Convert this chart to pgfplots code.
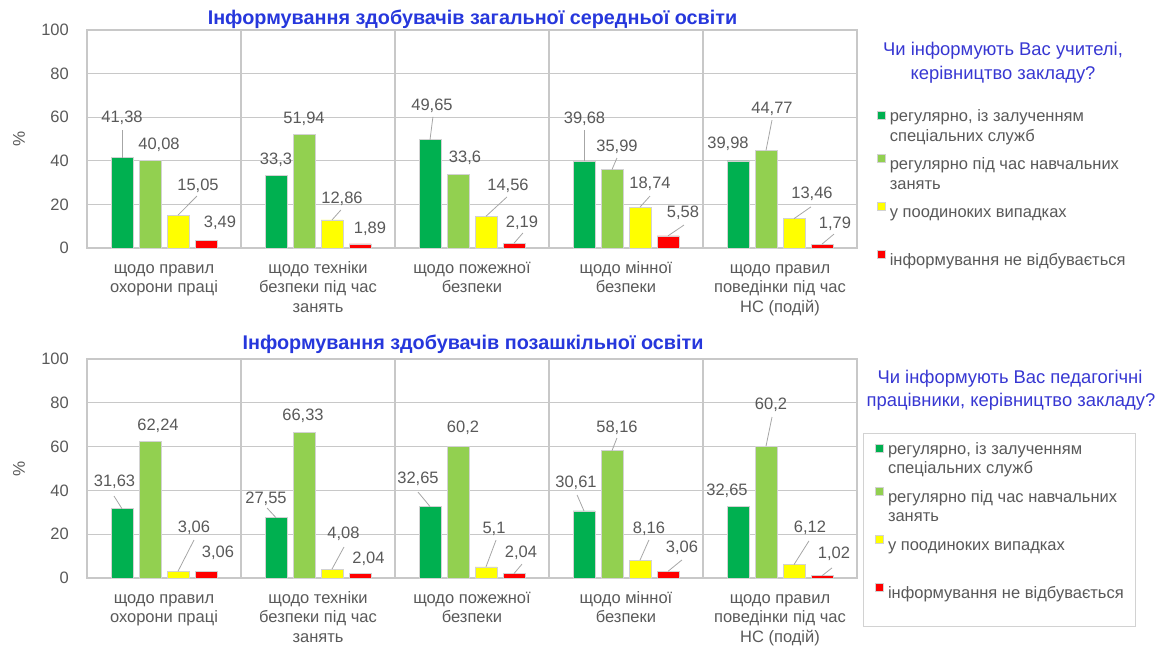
\documentclass[border=0pt]{standalone}
\usepackage{fontspec}
\setmainfont{Liberation Sans}
\usepackage{pgfplots}
\usepackage{pgfplotstable}
\pgfplotsset{compat=1.18}
\definecolor{txt}{RGB}{89,89,89}
\definecolor{gridc}{RGB}{200,200,200}
\definecolor{ttl}{RGB}{38,55,220}
\definecolor{ltl}{RGB}{55,55,210}
\definecolor{cA}{RGB}{0,176,80}
\definecolor{cB}{RGB}{146,208,80}
\definecolor{cC}{RGB}{255,255,0}
\definecolor{cD}{RGB}{255,0,0}
\definecolor{barc}{RGB}{210,210,210}
\definecolor{leadc}{RGB}{166,166,166}
\definecolor{boxc}{RGB}{210,210,210}
\newcommand{\fs}{\fontsize{16.5}{20}\selectfont}
\newcommand{\gap}{\rule{0pt}{23pt}}

\pgfplotstableread{
x y lab dx dy
0 41.38 41,38 0 40
1 33.3 33,3 0 16
2 49.65 49,65 2 34
3 39.68 39,68 0.5 42.5
4 39.98 39,98 -10 17
}\TopA
\pgfplotstableread{
x y lab dx dy
0 40.08 40,08 9 15.6
1 51.94 51,94 0 16.3
2 33.6 33,6 7 17
3 35.99 35,99 5 23
4 44.77 44,77 6 41.4
}\TopB
\pgfplotstableread{
x y lab dx dy
0 15.05 15,05 20 29.7
1 12.86 12,86 10 21
2 14.56 14,56 22 30.3
3 18.74 18,74 10 23
4 13.46 13,46 18 24.7
}\TopC
\pgfplotstableread{
x y lab dx dy
0 3.49 3,49 14 18
1 1.89 1,89 10 15
2 2.19 2,19 8 20
3 5.58 5,58 15 22.8
4 1.79 1,79 13 20
}\TopD
\pgfplotstableread{
x y u v
-0.2727 41.38 0 12.75
0.0909 15.05 0.123 8.8
1.0909 12.86 0.058 4.6
1.7273 49.65 0.019 10.5
2.0909 14.56 0.136 8.85
2.2727 2.19 0.058 4.7
2.7273 39.68 0 14.45
2.9091 35.99 0.032 5.3
3.0909 18.74 0.065 5.1
3.2727 5.58 0.104 4.95
3.9091 44.77 0.039 13.9
4.0909 13.46 0.110 5.4
4.2727 1.79 0.078 4.6
}\TopL

\pgfplotstableread{
x y lab dx dy
0 31.63 31,63 -7.5 26.7
1 27.55 27,55 -10 18.7
2 32.65 32,65 -12 28
3 30.61 30,61 -8 28.5
4 32.65 32,65 -11 15.5
}\BotA
\pgfplotstableread{
x y lab dx dy
0 62.24 62,24 8 15.7
1 66.33 66,33 -1 16.7
2 60.2 60,2 5 18
3 58.16 58,16 5 22.6
4 60.2 60,2 5 41.7
}\BotB
\pgfplotstableread{
x y lab dx dy
0 3.06 3,06 16 43.8
1 4.08 4,08 11.5 35.6
2 5.1 5,1 8 38
3 8.16 8,16 9 31
4 6.12 6,12 16 36.6
}\BotC
\pgfplotstableread{
x y lab dx dy
0 3.06 3,06 12 18.8
1 2.04 2,04 8.5 15
2 2.04 2,04 7 20.5
3 3.06 3,06 14 24
4 1.02 1,02 12 21.8
}\BotD
\pgfplotstableread{
x y u v
-0.2727 31.63 -0.052 5.8
0.0909 3.06 0.104 14.3
0.7273 27.55 -0.058 4.4
1.0909 4.08 0.078 10.1
1.7273 32.65 -0.078 6.6
2.0909 5.1 0.065 12.2
2.2727 2.04 0.052 4.3
2.7273 30.61 -0.045 7.3
2.9091 58.16 0.032 5.75
3.0909 8.16 0.058 9.2
3.2727 3.06 0.091 5.2
3.9091 60.2 0.039 13.3
4.0909 6.12 0.097 10.8
4.2727 1.02 0.065 3.6
}\BotL

\pgfplotsset{
  mybar/.style 2 args={ybar, bar width=22pt, bar shift=#2, draw=barc, line width=0.6pt, fill=#1,
    nodes near coords, point meta=explicit symbolic,
    visualization depends on={\thisrow{dx}\as\ldx},
    visualization depends on={\thisrow{dy}\as\ldy},
    every node near coord/.append style={anchor=center, xshift={\ldx pt + (#2)}, yshift=\ldy pt, font=\fs, text=txt, inner sep=0pt},
    legend image code/.code={\fill[fill=#1] (0pt,-4pt) rectangle (8pt,4pt);}
  },
  mylead/.style={quiver={u=\thisrow{u},v=\thisrow{v}}, draw=leadc, line width=0.8pt, no markers, forget plot},
  mychart/.style={
    width=770pt, scale only axis, anchor=south west,
    xmin=-0.5, xmax=4.5, ymin=0, ymax=100,
    xtick={0,...,4}, ytick={0,20,...,100},
    minor xtick={0.5,1.5,2.5,3.5},
    xminorgrids=true, ymajorgrids=true,
    major tick length=0pt, minor tick length=0pt,
    grid style={draw=gridc, line width=1.3pt},
    minor grid style={draw=gridc, line width=1.3pt},
    axis line style={draw=gridc, line width=1.3pt},
    tick style={draw=none},
    ticklabel style={font=\fs, text=txt},
    yticklabel style={inner sep=0pt, xshift=-18pt},
    xticklabel style={align=center, inner sep=0pt, yshift=-11.3pt, font=\fontsize{16.5}{19.5}\selectfont},
    /pgf/number format/assume math mode=true,
    ylabel={\%}, ylabel style={at={(axis description cs:-0.0883,0.5)}, anchor=center, font=\fontsize{17}{20}\selectfont, text=txt},
    xticklabels={{\strut щодо правил\\охорони праці},{\strut щодо техніки\\безпеки під час\\занять},{\strut щодо пожежної\\безпеки},{\strut щодо мінної\\безпеки},{\strut щодо правил\\поведінки під час\\НС (подій)}},
    clip=false,
    legend cell align=left,
    legend style={anchor=north west, inner xsep=12pt, inner ysep=7pt, row sep=4pt, column sep=4pt,
      font=\fs, text=txt, nodes={inner sep=0pt}},
  },
}

\begin{document}
\begin{tikzpicture}
\path[use as bounding box] (0pt,0pt) rectangle (1169pt,645pt);

\begin{axis}[mychart, at={(87pt,397pt)}, height=218pt,
  legend style={at={(axis description cs:1.0104,0.6775)}, draw=none, fill=none}]
\addplot[mybar={cA}{-42pt}] table[x=x,y=y,meta=lab] {\TopA};
\addlegendentry{\strut регулярно, із залученням}
\addlegendimage{empty legend}\addlegendentry{\strut спеціальних служб}
\addplot[mybar={cB}{-14pt}] table[x=x,y=y,meta=lab] {\TopB};
\addlegendentry{\gap\strut регулярно під час навчальних}
\addlegendimage{empty legend}\addlegendentry{\strut занять}
\addplot[mybar={cC}{14pt}] table[x=x,y=y,meta=lab] {\TopC};
\addlegendentry{\gap\strut у поодиноких випадках}
\addlegendimage{empty legend}\addlegendentry{\strut}
\addplot[mybar={cD}{42pt}] table[x=x,y=y,meta=lab] {\TopD};
\addlegendentry{\gap\strut інформування не відбувається}
\addlegendimage{empty legend}\addlegendentry{\strut}
\addplot[mylead] table[x=x,y=y] {\TopL};
\end{axis}

\begin{axis}[mychart, at={(87pt,67pt)}, height=219pt,
  legend style={at={(axis description cs:1.0078,0.6621)}, draw=boxc, line width=0.8pt, fill=white}]
\addplot[mybar={cA}{-42pt}] table[x=x,y=y,meta=lab] {\BotA};
\addlegendentry{\strut регулярно, із залученням}
\addlegendimage{empty legend}\addlegendentry{\strut спеціальних служб}
\addplot[mybar={cB}{-14pt}] table[x=x,y=y,meta=lab] {\BotB};
\addlegendentry{\gap\strut регулярно під час навчальних}
\addlegendimage{empty legend}\addlegendentry{\strut занять}
\addplot[mybar={cC}{14pt}] table[x=x,y=y,meta=lab] {\BotC};
\addlegendentry{\gap\strut у поодиноких випадках}
\addlegendimage{empty legend}\addlegendentry{\strut}
\addplot[mybar={cD}{42pt}] table[x=x,y=y,meta=lab] {\BotD};
\addlegendentry{\gap\strut інформування не відбувається}
\addlegendimage{empty legend}\addlegendentry{\strut}
\addplot[mylead] table[x=x,y=y] {\BotL};
\end{axis}

\node[font=\bfseries\fontsize{19.8}{22}\selectfont, text=ttl, anchor=base] at (472.5pt,620pt) {Інформування здобувачів загальної середньої освіти};
\node[font=\bfseries\fontsize{19.8}{22}\selectfont, text=ttl, anchor=base] at (473pt,295pt) {Інформування здобувачів позашкільної освіти};
\node[font=\fontsize{18.4}{22}\selectfont, text=ltl, anchor=base] at (1003pt,589pt) {Чи інформують Вас учителі,};
\node[font=\fontsize{18.4}{22}\selectfont, text=ltl, anchor=base] at (1003pt,565pt) {керівництво закладу?};
\node[font=\fontsize{18.4}{22}\selectfont, text=ltl, anchor=base] at (1010pt,261pt) {Чи інформують Вас педагогічні};
\node[font=\fontsize{18.4}{22}\selectfont, text=ltl, anchor=base] at (1011pt,238pt) {працівники, керівництво закладу?};
\end{tikzpicture}
\end{document}
